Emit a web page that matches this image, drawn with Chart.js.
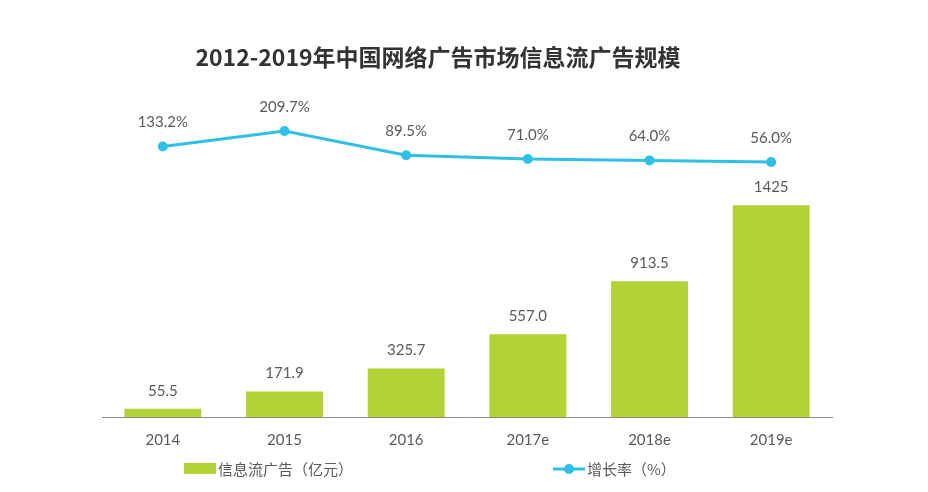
<!DOCTYPE html>
<html>
<head>
<meta charset="utf-8">
<script src="https://cdn.jsdelivr.net/npm/chart.js@4"></script>
<style>
html,body{margin:0;padding:0;background:#fff;}
#wrap{width:928px;height:492px;position:relative;}
</style>
</head>
<body>
<div id="wrap"><canvas id="c" width="928" height="492"></canvas></div>
<script>
const categories = ['2014', '2015', '2016', '2017e', '2018e', '2019e'];
const adValues = [55.5, 171.9, 325.7, 557.0, 913.5, 1425];
const adLabels = ['55.5', '171.9', '325.7', '557.0', '913.5', '1425'];
const growthValues = [133.2, 209.7, 89.5, 71.0, 64.0, 56.0];
const growthLabels = ['133.2%', '209.7%', '89.5%', '71.0%', '64.0%', '56.0%'];
const titleText = '2012-2019年中国网络广告市场信息流广告规模';
const legendBar = '信息流广告（亿元）';
const legendLine = '增长率（%）';

const GREEN = '#b2d235';
const CYAN = '#2ec0e6';
const TEXT = '#595959';
const NUMFONT = 'Lato, "Noto Sans CJK SC", sans-serif';
const CJKFONT = '"Noto Sans CJK SC", sans-serif';

const labelPlugin = {
  id: 'valueLabels',
  afterDatasetsDraw(chart) {
    const ctx = chart.ctx;
    ctx.save();
    ctx.fillStyle = TEXT;
    ctx.font = '15px ' + NUMFONT;
    ctx.textAlign = 'center';
    ctx.textBaseline = 'middle';
    chart.getDatasetMeta(1).data.forEach((el, i) => {
      ctx.fillText(adLabels[i], el.x, el.y - 18);
    });
    chart.getDatasetMeta(0).data.forEach((el, i) => {
      ctx.fillText(growthLabels[i], el.x, el.y - 24);
    });
    ctx.restore();
  }
};

const decorPlugin = {
  id: 'decor',
  afterDraw(chart) {
    const ctx = chart.ctx;
    ctx.save();
    // title
    ctx.fillStyle = '#333333';
    ctx.font = 'bold 23px ' + CJKFONT;
    ctx.textAlign = 'center';
    ctx.textBaseline = 'middle';
    ctx.fillText(titleText, 438, 57);
    // legend
    ctx.font = '15px ' + CJKFONT;
    ctx.textAlign = 'left';
    ctx.fillStyle = GREEN;
    ctx.fillRect(184, 463, 32, 11);
    ctx.fillStyle = TEXT;
    ctx.fillText(legendBar, 218, 469);
    ctx.strokeStyle = CYAN;
    ctx.lineWidth = 3;
    ctx.beginPath();
    ctx.moveTo(553, 469);
    ctx.lineTo(585, 469);
    ctx.stroke();
    ctx.fillStyle = CYAN;
    ctx.beginPath();
    ctx.arc(569, 469, 5, 0, Math.PI * 2);
    ctx.fill();
    ctx.fillStyle = TEXT;
    ctx.fillText(legendLine, 587, 469);
    ctx.restore();
  }
};

new Chart(document.getElementById('c'), {
  data: {
    labels: categories,
    datasets: [
      {
        type: 'line',
        label: legendLine,
        data: growthValues,
        yAxisID: 'y1',
        borderColor: CYAN,
        backgroundColor: CYAN,
        borderWidth: 3,
        pointRadius: 5,
        pointBackgroundColor: CYAN,
        pointBorderWidth: 0,
        tension: 0,
        order: 0
      },
      {
        type: 'bar',
        label: legendBar,
        data: adValues,
        yAxisID: 'y',
        backgroundColor: GREEN,
        categoryPercentage: 0.8,
        barPercentage: 0.79,
        order: 1
      }
    ]
  },
  options: {
    responsive: false,
    animation: false,
    devicePixelRatio: 1,
    layout: { padding: { top: 90, bottom: 29, left: 102, right: 96 } },
    plugins: {
      legend: { display: false },
      title: { display: false },
      tooltip: { enabled: false }
    },
    scales: {
      x: {
        grid: { display: true, drawOnChartArea: false, drawTicks: false },
        border: { display: true, color: '#8c8c8c', width: 1 },
        ticks: { color: TEXT, font: { size: 15, family: NUMFONT }, padding: 14 }
      },
      y: { display: false, min: 0, max: 2200 },
      y1: { display: false, min: -1208, max: 413 }
    }
  },
  plugins: [labelPlugin, decorPlugin]
});
</script>
</body>
</html>
